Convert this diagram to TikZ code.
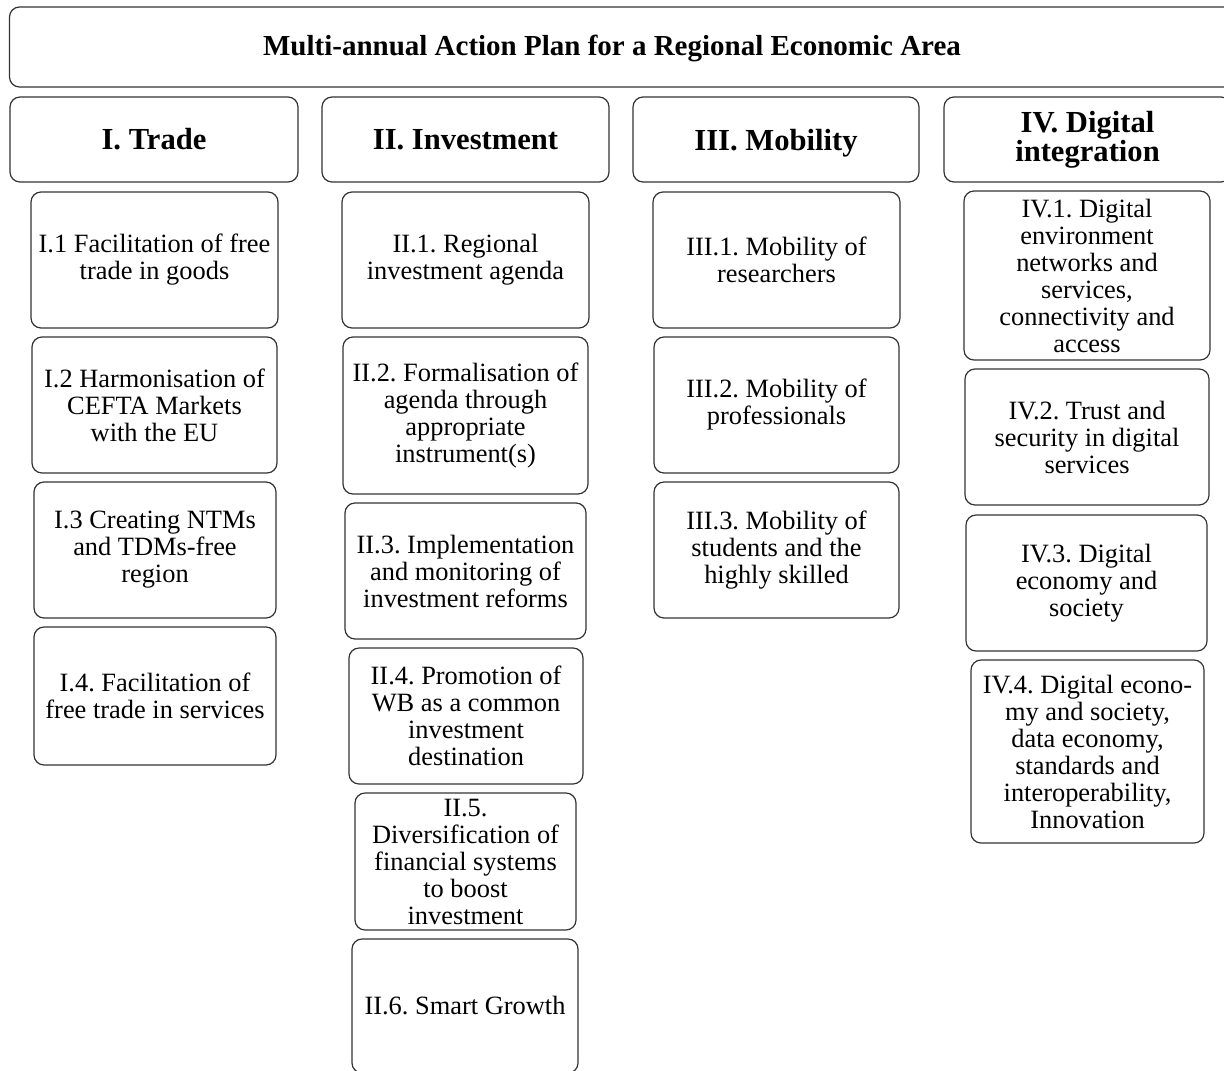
\documentclass[tikz,border=0pt]{standalone}
\usepackage{fontspec}
\setmainfont{Liberation Serif}
\frenchspacing
\begin{document}
\begin{tikzpicture}[x=0.5pt,y=-0.5pt,
    box/.style={draw=black!80,line width=0.6pt,rounded corners=5pt,align=center,inner sep=0pt},
    headtext/.style={font=\fontsize{15.3}{14.5}\selectfont\bfseries,align=center},
    item/.style={box,font=\fontsize{13.2}{13.5}\selectfont}]
        % Fix page size
        \useasboundingbox (0,0) rectangle (1224,1070);
        \clip (0,0) rectangle (1224,1070);
        % Draw title
        \node[box,minimum width=615.5pt,minimum height=40pt] (plan) at (625,47) {};
        \node[font=\fontsize{14.5}{16}\selectfont\bfseries] (plantitle) at (612,48) {Multi-annual Action Plan for a Regional Economic Area};
        % Draw pillar headers
        \node[box,headtext,minimum width=144pt,minimum height=42.5pt] (trade) at (154,139.5) {I. Trade};
        \node[box,headtext,minimum width=143.5pt,minimum height=42.5pt] (invest) at (465.5,139.5) {II. Investment};
        \node[box,headtext,minimum width=143pt,minimum height=42.5pt,text depth=0pt] (mobil) at (776,139.5) {III. Mobility};
        \node[box,headtext,minimum width=143.5pt,minimum height=42.5pt] (digit) at (1087.5,139.5) {IV. Digital\\integration};
        % Draw trade measures
        \node[item,minimum width=123.5pt,minimum height=68pt] (trade1) at (154.5,260) {I.1 Facilitation of free\\trade in goods};
        \node[item,minimum width=122.5pt,minimum height=68pt] (trade2) at (154.5,405) {I.2 Harmonisation of\\CEFTA Markets\\with the EU};
        \node[item,minimum width=121pt,minimum height=68pt] (trade3) at (155,550) {I.3 Creating NTMs\\and TDMs-free\\region};
        \node[item,minimum width=121pt,minimum height=69pt] (trade4) at (155,696) {I.4. Facilitation of\\free trade in services};
        % Draw investment measures
        \node[item,minimum width=123.5pt,minimum height=68pt] (invest1) at (465.5,260) {II.1. Regional\\investment agenda};
        \node[item,minimum width=122.5pt,minimum height=78.5pt] (invest2) at (465.5,415.5) {II.2. Formalisation of\\agenda through\\appropriate\\instrument(s)};
        \node[item,minimum width=120.5pt,minimum height=68pt] (invest3) at (465.5,571) {II.3. Implementation\\and monitoring of\\investment reforms};
        \node[item,minimum width=117pt,minimum height=68pt] (invest4) at (466,716) {II.4. Promotion of\\WB as a common\\investment\\destination};
        \node[item,minimum width=110.5pt,minimum height=68.5pt] (invest5) at (465.5,861.5) {II.5.\\Diversification of\\financial systems\\to boost\\investment};
        \node[item,minimum width=113pt,minimum height=67pt] (invest6) at (465,1006) {II.6. Smart Growth};
        % Draw mobility measures
        \node[item,minimum width=123.5pt,minimum height=68pt] (mobil1) at (776.5,260) {III.1. Mobility of\\researchers};
        \node[item,minimum width=122.5pt,minimum height=68pt] (mobil2) at (776.5,405) {III.2. Mobility of\\professionals};
        \node[item,minimum width=122.5pt,minimum height=68pt] (mobil3) at (776.5,550) {III.3. Mobility of\\students and the\\highly skilled};
        % Draw digital measures
        \node[item,minimum width=123pt,minimum height=84.5pt] (digit1) at (1087,275.5) {IV.1. Digital\\environment\\networks and\\services,\\connectivity and\\access};
        \node[item,minimum width=122pt,minimum height=68pt] (digit2) at (1087,437) {IV.2. Trust and\\security in digital\\services};
        \node[item,minimum width=120.5pt,minimum height=68pt] (digit3) at (1086.5,583) {IV.3. Digital\\economy and\\society};
        \node[item,minimum width=116.5pt,minimum height=91.5pt] (digit4) at (1087.5,751.5) {IV.4. Digital econo-\\my and society,\\data economy,\\standards and\\interoperability,\\Innovation};
    \end{tikzpicture}
\end{document}
